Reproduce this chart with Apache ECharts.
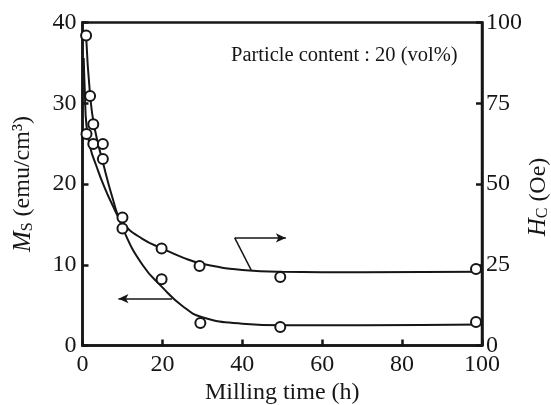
<!DOCTYPE html>
<html>
<head>
<meta charset="utf-8">
<script src="https://cdn.jsdelivr.net/npm/echarts@6/dist/echarts.min.js"></script>
<style>
html,body{margin:0;padding:0;background:#fff;}
#chart{width:551px;height:405px;}
</style>
</head>
<body>
<div id="chart"></div>
<script>
// Measured points (milling time in h)
const msPoints = [[0.9,38.4],[1.9,30.9],[2.7,27.4],[5.1,23.1],[10,14.5],[19.8,8.2],[29.5,2.8],[49.5,2.3],[98.5,2.9]];
const hcPoints = [[1,65.5],[2.7,62.4],[5.1,62.4],[10,39.6],[19.8,30],[29.3,24.6],[49.5,21.2],[98.5,23.7]];
// Fitted curves as drawn in the figure
const msCurve = [[0.9,38.4],[1.9,31],[3,27],[5.2,22.5],[7.5,18.3],[10,14.6],[15,10],[20,7.2],[25,4.9],[30,3.5],[40,2.7],[50,2.5],[70,2.5],[100,2.6]];
const hcCurve = [[0.3,89],[0.6,78],[1,68],[2,61],[3.5,55.5],[5,50.5],[7.5,43.5],[10,38],[15,33],[20,30],[25,27.3],[30,25.3],[40,23.4],[50,22.8],[70,22.7],[100,22.8]];
// Axis ticks
const xTicks = {min:0, max:100, interval:20};
const msTicks = {min:0, max:40, interval:10};
const hcTicks = {min:0, max:100, interval:25};
// Annotation arrows (data coordinates)
const msArrow = [[22.4,5.8],[9,5.8]];
const hcArrowLeader = [[42.3,23.2],[38.1,33.3]];
const hcArrow = [[38.1,33.3],[50.9,33.3]];
const noteText = 'Particle content : 20 (vol%)';

const FONT = 'Liberation Serif';
const INK = '#161616';
const chart = echarts.init(document.getElementById('chart'));

function axisCommon(t){
  return {
    type:'value', min:t.min, max:t.max, interval:t.interval,
    nameMoveOverlap:false,
    axisLine:{show:true, onZero:false, lineStyle:{color:INK, width:2.5}},
    axisTick:{show:true, inside:true, length:6, lineStyle:{color:INK, width:2.5}},
    splitLine:{show:false},
    axisLabel:{fontFamily:FONT, fontSize:24, color:INK, margin:6},
    nameTextStyle:{fontFamily:FONT, fontSize:24, color:INK}
  };
}
const arrowLine = {color:INK, width:1.5, type:'solid'};
const richName = {
  i:{fontFamily:FONT, fontSize:25, fontStyle:'italic', color:INK},
  s:{fontFamily:FONT, fontSize:16, color:INK, verticalAlign:'bottom', padding:[8,0,0,0]}
};

chart.setOption({
  animation:false,
  backgroundColor:'#fff',
  title:{text:noteText, left:231, top:45, padding:0,
    textStyle:{fontFamily:FONT, fontSize:20.5, fontWeight:'normal', color:INK}},
  grid:{left:82.5, right:69, top:22.5, bottom:59.5, containLabel:false, outerBoundsMode:'none',
    show:true, borderColor:INK, borderWidth:2.5, backgroundColor:'transparent'},
  xAxis:Object.assign(axisCommon(xTicks), {
    name:'Milling time (h)', nameLocation:'middle', nameGap:35,
    axisLabel:{fontFamily:FONT, fontSize:24, color:INK, margin:7},
    nameTextStyle:{fontFamily:FONT, fontSize:24, color:INK}
  }),
  yAxis:[
    Object.assign(axisCommon(msTicks), {
      position:'left',
      name:'{i|M}{s|S} (emu/cm³)', nameLocation:'middle', nameGap:47,
      nameTextStyle:{fontFamily:FONT, fontSize:24, color:INK, rich:richName}
    }),
    Object.assign(axisCommon(hcTicks), {
      position:'right',
      axisLabel:{fontFamily:FONT, fontSize:24, color:INK, margin:4},
      name:'{i|H}{s|C} (Oe)', nameLocation:'middle', nameGap:44,
      nameTextStyle:{fontFamily:FONT, fontSize:24, color:INK, padding:[0,26,0,0], rich:richName}
    })
  ],
  series:[
    {type:'line', yAxisIndex:0, data:msCurve, showSymbol:false, smooth:0.5,
     lineStyle:{color:INK, width:2}, silent:true, z:2,
     markLine:{silent:true, animation:false, label:{show:false}, lineStyle:arrowLine, symbolSize:[7,10],
       data:[[{coord:msArrow[0], symbol:'none'},{coord:msArrow[1], symbol:'arrow'}]]}},
    {type:'line', yAxisIndex:1, data:hcCurve, showSymbol:false, smooth:0.5,
     lineStyle:{color:INK, width:2}, silent:true, z:2,
     markLine:{silent:true, animation:false, label:{show:false}, lineStyle:arrowLine, symbolSize:[7,10],
       data:[[{coord:hcArrowLeader[0], symbol:'none'},{coord:hcArrowLeader[1], symbol:'none'}],
             [{coord:hcArrow[0], symbol:'none'},{coord:hcArrow[1], symbol:'arrow'}]]}},
    {type:'scatter', yAxisIndex:0, data:msPoints, symbol:'circle', symbolSize:10,
     itemStyle:{color:'#fff', borderColor:INK, borderWidth:2, opacity:1}, z:3},
    {type:'scatter', yAxisIndex:1, data:hcPoints, symbol:'circle', symbolSize:10,
     itemStyle:{color:'#fff', borderColor:INK, borderWidth:2, opacity:1}, z:3}
  ]
});
</script>
</body>
</html>
